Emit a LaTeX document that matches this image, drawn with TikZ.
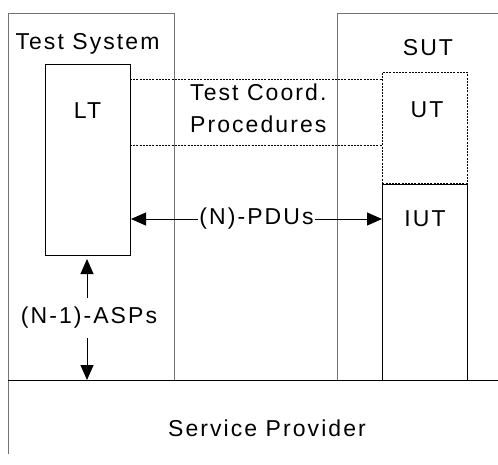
\documentclass[tikz,border=0pt]{standalone}
\usepackage{fontspec}
\setmainfont{Liberation Sans}[LetterSpace=9]
\usetikzlibrary{arrows.meta}
\tikzset{
  lbl/.style={font=\fontsize{23}{28}\selectfont, inner sep=0pt, text=black},
  outer/.style={draw=black!55, line width=1pt},
  inner/.style={draw=black, line width=1pt},
  dotline/.style={draw=black, line width=0.7pt, dash pattern=on 2pt off 1.2pt},
  dtip/.style={{Triangle[length=15pt,width=13pt]}-{Triangle[length=15pt,width=13pt]}},
}
\begin{document}
\begin{tikzpicture}[x=1pt,y=-1pt]
\useasboundingbox (0,0) rectangle (498,464);
\clip (0,0) rectangle (498,464);
% outer boxes
\draw[outer] (8,380) -- (8,13) -- (174,13) -- (174,380);
\draw[outer] (337,380) -- (337,13) -- (510,13);
\draw[outer] (8,454) -- (8,380);
\draw[inner] (8,380) -- (510,380);
% inner boxes
\node[inner, minimum width=85pt, minimum height=191pt, anchor=north west] (LT) at (45,64) {};
\node[dotline, minimum width=85pt, minimum height=111pt, anchor=north west] (UT) at (382,72) {};
\node[inner, minimum width=85pt, minimum height=196pt, anchor=north west] (IUT) at (382,184) {};
% labels
\node[lbl] (ts) at (87.5,43.5) {Test System};
\node[lbl] (sut) at (428,48) {SUT};
\node[lbl] (ltl) at (87.5,111) {LT};
\node[lbl] (utl) at (427,110) {UT};
\node[lbl] (iutl) at (425,219) {IUT};
\node[lbl, align=left, anchor=north west, font=\fontsize{23}{32}\selectfont] (tcp) at (190,84) {Test Coord.\\Procedures};
\node[lbl] (sp) at (267,428) {Service Provider};
% dotted coordination lines
\coordinate (d1a) at (130,79); \coordinate (d1b) at (382,79);
\coordinate (d2a) at (130,145); \coordinate (d2b) at (382,145);
\draw[dotline] (d1a) -- (d1b);
\draw[dotline] (d2a) -- (d2b);
% PDUs arrow
\draw[dtip, line width=1pt] (LT.east |- 0,219) -- node[lbl, fill=white, inner xsep=1pt, inner ysep=3pt] (pdu) {(N)-PDUs} (IUT.west |- 0,219);
% ASPs arrow
\coordinate (spt) at (87,380);
\draw[dtip, line width=1pt, shorten <=3pt] (LT.south -| spt) -- node[lbl, fill=white, inner xsep=0pt, inner ysep=9pt, xshift=2pt] (asp) {(N-1)-ASPs} (spt);
\end{tikzpicture}
\end{document}
